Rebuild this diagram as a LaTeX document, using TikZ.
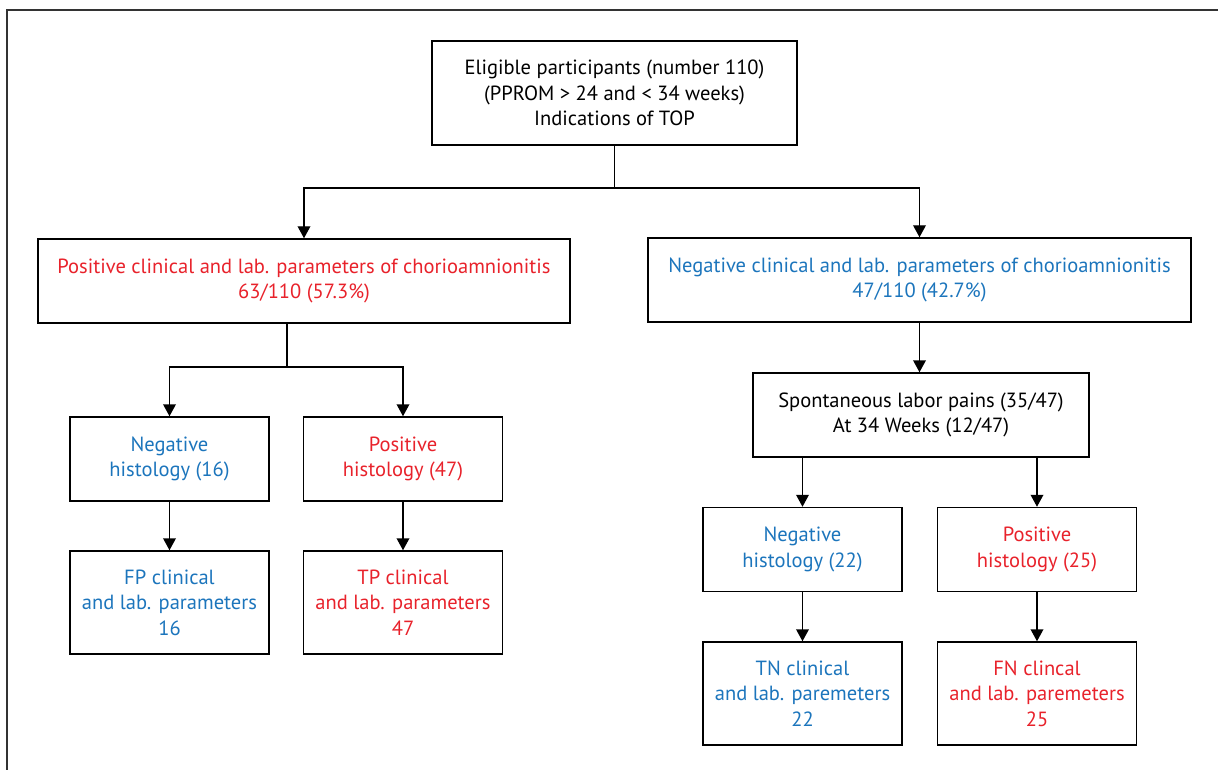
\documentclass[tikz,border=0pt]{standalone}
\usepackage{fontspec}
\setmainfont{PT Sans}
\usetikzlibrary{arrows.meta}
\definecolor{myred}{HTML}{E8222B}
\definecolor{myblue}{HTML}{1C75BC}
\definecolor{frame}{HTML}{333333}
\begin{document}
\begin{tikzpicture}[x=0.75pt,y=-0.75pt,
  box/.style={draw=black,line width=1.1pt,inner sep=0pt,align=center,
    font=\fontsize{15.4}{19.1}\selectfont},
  wA/.style={minimum width=273.75pt,minimum height=78pt},
  wB/.style={minimum width=399pt,minimum height=63pt},
  wC/.style={minimum width=407.25pt,minimum height=63pt},
  wD/.style={minimum width=149.5pt,minimum height=63pt},
  wE/.style={minimum width=149.5pt,minimum height=77.25pt},
  wF/.style={minimum width=252pt,minimum height=63pt},
  conn/.style={line width=1.1pt,draw=black},
  arr/.style={conn,-{Triangle[width=9.5pt,length=9pt]}},
  redt/.style={text=myred},
  bluet/.style={text=myblue}]
\useasboundingbox (0,0) rectangle (1218,770);
\draw[draw=frame,line width=1.5pt] (6.5,770) -- (6.5,10.5) -- (1218,10.5);

\node[box,wA] (top) at (614.5,93) {Eligible participants (number 110)\\(PPROM > 24 and < 34 weeks)\\Indications of TOP};
\node[box,wB,redt] (pos) at (304,281) {Positive clinical and lab. parameters of chorioamnionitis\\63/110 (57.3\%)};
\node[box,wC,bluet] (neg) at (919.5,280) {Negative clinical and lab. parameters of chorioamnionitis\\47/110 (42.7\%)};
\node[box,wD,bluet] (nh16) at (169.5,459) {Negative\\histology (16)};
\node[box,wD,redt] (ph47) at (403,459) {Positive\\histology (47)};
\node[box,wE,bluet] (fp) at (169.5,602.5) {FP clinical\\and lab. parameters\\16};
\node[box,wE,redt] (tp) at (403,602.5) {TP clinical\\and lab. parameters\\47};
\node[box,wF] (sp) at (921,415) {Spontaneous labor pains (35/47)\\At 34 Weeks (12/47)};
\node[box,wD,bluet] (nh22) at (802.5,549.5) {Negative\\histology (22)};
\node[box,wD,redt] (ph25) at (1037,549.5) {Positive\\histology (25)};
\node[box,wE,bluet] (tn) at (802.5,693.5) {TN clinical\\and lab. paremeters\\22};
\node[box,wE,redt] (fn) at (1037,693.5) {FN clincal\\and lab. paremeters\\25};

\coordinate (j1) at (614.5,188);
\coordinate (j2) at (287,367);
\draw[conn] (top.south) -- (j1);
\draw[arr] (j1) -| (pos.north);
\draw[arr] (j1) -| (neg.north);
\draw[conn] (pos.south -| j2) -- (j2);
\draw[arr] (j2) -| (nh16.north);
\draw[arr] (j2) -| (ph47.north);
\draw[arr] (nh16) -- (fp);
\draw[arr] (ph47) -- (tp);
\draw[arr] (neg) -- (neg.south |- sp.north);
\draw[arr] (sp.south -| nh22.north) -- (nh22.north);
\draw[arr] (sp.south -| ph25.north) -- (ph25.north);
\draw[arr] (nh22) -- (tn);
\draw[arr] (ph25) -- (fn);
\end{tikzpicture}
\end{document}
